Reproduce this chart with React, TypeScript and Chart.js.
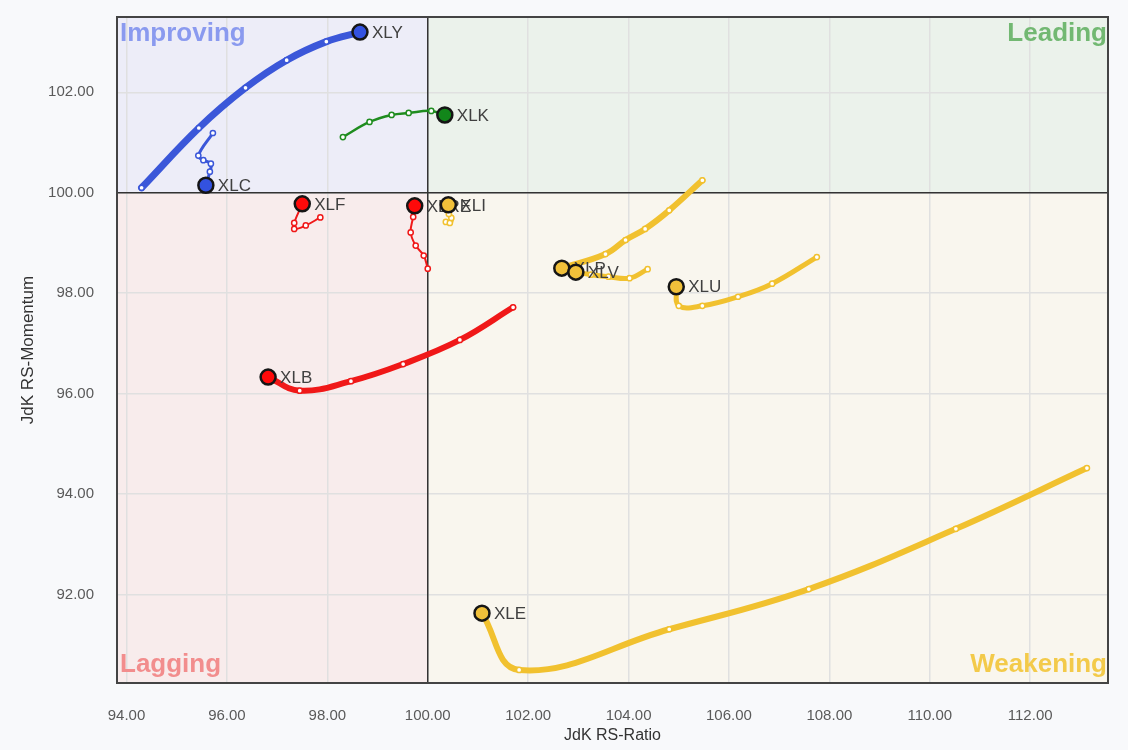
import React, { useEffect, useRef } from "react";
import { Chart, registerables } from "chart.js";

Chart.register(...registerables);

// ---- axis ticks ----
const X_TICKS = [94, 96, 98, 100, 102, 104, 106, 108, 110, 112];
const Y_TICKS = [92, 94, 96, 98, 100, 102];
const X_MIN = 93.81;
const X_MAX = 113.55;
const Y_MIN = 90.24;
const Y_MAX = 103.5;

// ---- tails (oldest -> newest / head) ----
const XLY_RATIO = [94.3, 95.44, 96.37, 97.19, 97.98, 98.65];
const XLY_MOMENTUM = [100.1, 101.29, 102.09, 102.64, 103.01, 103.2];

const XLC_RATIO = [95.72, 95.43, 95.53, 95.68, 95.66, 95.58];
const XLC_MOMENTUM = [101.19, 100.74, 100.65, 100.58, 100.42, 100.15];

const XLK_RATIO = [98.31, 98.84, 99.28, 99.62, 100.07, 100.34];
const XLK_MOMENTUM = [101.11, 101.41, 101.55, 101.59, 101.63, 101.55];

const XLF_RATIO = [97.86, 97.57, 97.34, 97.34, 97.5];
const XLF_MOMENTUM = [99.51, 99.35, 99.28, 99.4, 99.78];

const XLRE_RATIO = [100.0, 99.92, 99.76, 99.66, 99.71, 99.74];
const XLRE_MOMENTUM = [98.49, 98.75, 98.95, 99.21, 99.52, 99.74];

const XLI_RATIO = [100.36, 100.44, 100.47, 100.42, 100.4, 100.41];
const XLI_MOMENTUM = [99.42, 99.4, 99.5, 99.58, 99.66, 99.76];

const XLB_RATIO = [101.7, 100.64, 99.51, 98.47, 97.45, 96.82];
const XLB_MOMENTUM = [97.72, 97.07, 96.59, 96.25, 96.06, 96.33];

const XLP_RATIO = [105.47, 104.81, 104.33, 103.94, 103.54, 102.67];
const XLP_MOMENTUM = [100.25, 99.65, 99.28, 99.06, 98.78, 98.5];

const XLV_RATIO = [104.38, 104.02, 103.6, 103.25, 103.05, 102.95];
const XLV_MOMENTUM = [98.48, 98.3, 98.33, 98.37, 98.4, 98.42];

const XLU_RATIO = [107.75, 106.86, 106.18, 105.47, 105.0, 104.95];
const XLU_MOMENTUM = [98.72, 98.19, 97.93, 97.75, 97.75, 98.13];

const XLE_RATIO = [113.13, 110.52, 107.59, 104.81, 101.82, 101.08];
const XLE_MOMENTUM = [94.52, 93.31, 92.11, 91.31, 90.5, 91.63];

// ---- series (first listed is drawn on top) ----
const SERIES = [
  { name: "XLE", ratio: XLE_RATIO, momentum: XLE_MOMENTUM },
  { name: "XLU", ratio: XLU_RATIO, momentum: XLU_MOMENTUM },
  { name: "XLV", ratio: XLV_RATIO, momentum: XLV_MOMENTUM },
  { name: "XLP", ratio: XLP_RATIO, momentum: XLP_MOMENTUM },
  { name: "XLB", ratio: XLB_RATIO, momentum: XLB_MOMENTUM },
  { name: "XLI", ratio: XLI_RATIO, momentum: XLI_MOMENTUM },
  { name: "XLRE", ratio: XLRE_RATIO, momentum: XLRE_MOMENTUM },
  { name: "XLF", ratio: XLF_RATIO, momentum: XLF_MOMENTUM },
  { name: "XLK", ratio: XLK_RATIO, momentum: XLK_MOMENTUM },
  { name: "XLC", ratio: XLC_RATIO, momentum: XLC_MOMENTUM },
  { name: "XLY", ratio: XLY_RATIO, momentum: XLY_MOMENTUM },
];

// ---- styles ----
const BLUE = { line: "#3b57d9", head: "#3352e0" };
const GREEN = { line: "#1f8c1f", head: "#12861a" };
const RED = { line: "#f01818", head: "#ff0a0a" };
const YELLOW = { line: "#f1c12f", head: "#f0c03a" };

const STYLE: Record<string, { c: { line: string; head: string }; w: number }> = {
  XLY: { c: BLUE, w: 7 },
  XLC: { c: BLUE, w: 3 },
  XLK: { c: GREEN, w: 2.5 },
  XLF: { c: RED, w: 2 },
  XLRE: { c: RED, w: 2 },
  XLI: { c: YELLOW, w: 5 },
  XLB: { c: RED, w: 6 },
  XLP: { c: YELLOW, w: 6 },
  XLV: { c: YELLOW, w: 5 },
  XLU: { c: YELLOW, w: 5 },
  XLE: { c: YELLOW, w: 6 },
};

const FONT = '"Liberation Sans", Arial, sans-serif';

const rrgPlugin = {
  id: "rrgPlugin",
  beforeDraw(chart: any) {
    const { ctx, chartArea: a, scales } = chart;
    const cx = scales.x.getPixelForValue(100);
    const cy = scales.y.getPixelForValue(100);
    ctx.save();
    ctx.fillStyle = "#ededf8";
    ctx.fillRect(a.left, a.top, cx - a.left, cy - a.top);
    ctx.fillStyle = "#ebf2eb";
    ctx.fillRect(cx, a.top, a.right - cx, cy - a.top);
    ctx.fillStyle = "#f8ecec";
    ctx.fillRect(a.left, cy, cx - a.left, a.bottom - cy);
    ctx.fillStyle = "#f9f6ee";
    ctx.fillRect(cx, cy, a.right - cx, a.bottom - cy);
    ctx.restore();
  },
  beforeDatasetsDraw(chart: any) {
    const { ctx, chartArea: a, scales } = chart;
    const cx = scales.x.getPixelForValue(100);
    const cy = scales.y.getPixelForValue(100);
    ctx.save();
    // quadrant names
    ctx.font = `bold 26px ${FONT}`;
    ctx.textBaseline = "middle";
    ctx.textAlign = "left";
    ctx.fillStyle = "#8a9aef";
    ctx.fillText("Improving", a.left + 3, a.top + 17);
    ctx.fillStyle = "#f28d8d";
    ctx.fillText("Lagging", a.left + 3, a.bottom - 18);
    ctx.textAlign = "right";
    ctx.fillStyle = "#72b872";
    ctx.fillText("Leading", a.right - 1, a.top + 17);
    ctx.fillStyle = "#f3ca4a";
    ctx.fillText("Weakening", a.right - 1, a.bottom - 18);
    // center lines
    ctx.strokeStyle = "#333";
    ctx.lineWidth = 1.5;
    ctx.beginPath();
    ctx.moveTo(cx, a.top);
    ctx.lineTo(cx, a.bottom);
    ctx.moveTo(a.left, cy);
    ctx.lineTo(a.right, cy);
    ctx.stroke();
    // frame
    ctx.strokeStyle = "#444";
    ctx.lineWidth = 2;
    ctx.strokeRect(a.left, a.top, a.right - a.left, a.bottom - a.top);
    ctx.restore();
  },
  afterDatasetDraw(chart: any, args: any) {
    const { ctx } = chart;
    const pts = args.meta.data;
    if (!pts || !pts.length) return;
    const last = pts[pts.length - 1];
    const name = chart.data.datasets[args.index].label;
    ctx.save();
    ctx.font = `17px ${FONT}`;
    ctx.fillStyle = "#404040";
    ctx.textBaseline = "middle";
    ctx.textAlign = "left";
    ctx.fillText(name, last.x + 12, last.y + 1);
    ctx.restore();
  },
};

export default function App() {
  const ref = useRef<HTMLCanvasElement | null>(null);

  useEffect(() => {
    if (!ref.current) return;
    const datasets = SERIES.map((s) => {
      const st = STYLE[s.name];
      const n = s.ratio.length;
      return {
        label: s.name,
        data: s.ratio.map((x, i) => ({ x, y: s.momentum[i] })),
        showLine: true,
        tension: 0.4,
        borderColor: st.c.line,
        borderWidth: st.w,
        borderCapStyle: "round",
        borderJoinStyle: "round",
        pointRadius: (c: any) => (c.dataIndex === n - 1 ? 7.5 : 2.6),
        pointBorderWidth: (c: any) => (c.dataIndex === n - 1 ? 2.5 : 1.5),
        pointBackgroundColor: (c: any) => (c.dataIndex === n - 1 ? st.c.head : "#ffffff"),
        pointBorderColor: (c: any) => (c.dataIndex === n - 1 ? "#151515" : st.c.line),
        pointHoverRadius: 0,
      };
    });

    const chart = new Chart(ref.current, {
      type: "scatter",
      data: { datasets: datasets as any },
      plugins: [rrgPlugin as any],
      options: {
        responsive: false,
        animation: false,
        events: [],
        layout: { padding: { left: 0, top: 17, right: 20, bottom: 0 } },
        plugins: {
          legend: { display: false },
          tooltip: { enabled: false },
        },
        scales: {
          x: {
            type: "linear",
            min: X_MIN,
            max: X_MAX,
            afterBuildTicks: (scale: any) => {
              scale.ticks = X_TICKS.map((v) => ({ value: v }));
            },
            afterFit: (scale: any) => {
              scale.height = 67;
              scale.paddingLeft = 0;
              scale.paddingRight = 0;
            },
            grid: { color: "#e0e0e0", lineWidth: 1.5, drawTicks: false },
            border: { display: false },
            ticks: {
              padding: 24,
              color: "#5a5a5a",
              font: { family: FONT, size: 15 },
              callback: (v: any) => Number(v).toFixed(2),
            },
            title: {
              display: true,
              text: "JdK RS-Ratio",
              color: "#333",
              font: { family: FONT, size: 16 },
              padding: { top: 0, bottom: 5 },
            },
          },
          y: {
            type: "linear",
            min: Y_MIN,
            max: Y_MAX,
            afterBuildTicks: (scale: any) => {
              scale.ticks = Y_TICKS.map((v) => ({ value: v }));
            },
            afterFit: (scale: any) => {
              scale.width = 117;
              scale.paddingTop = 0;
              scale.paddingBottom = 0;
            },
            grid: { color: "#e0e0e0", lineWidth: 1.5, drawTicks: false },
            border: { display: false },
            ticks: {
              padding: 23,
              color: "#5a5a5a",
              font: { family: FONT, size: 15 },
              callback: (v: any) => Number(v).toFixed(2),
            },
            title: {
              display: true,
              text: "JdK RS-Momentum",
              color: "#333",
              font: { family: FONT, size: 17 },
              padding: { top: 18, bottom: 0 },
            },
          },
        },
      } as any,
    });
    return () => chart.destroy();
  }, []);

  return (
    <div
      style={{
        position: "absolute",
        left: 0,
        top: 0,
        width: 1128,
        height: 750,
        background: "#f8f9fb",
      }}
    >
      <canvas ref={ref} width={1128} height={750} style={{ display: "block" }} />
    </div>
  );
}
